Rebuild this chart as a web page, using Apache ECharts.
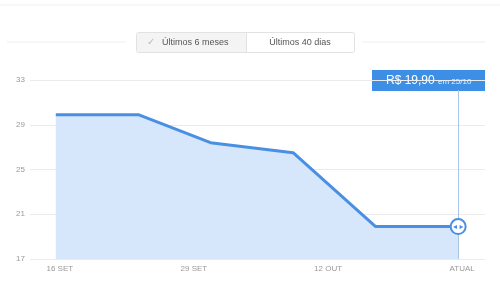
<!DOCTYPE html>
<html><head><meta charset="utf-8">
<script src="https://cdn.jsdelivr.net/npm/echarts@6/dist/echarts.min.js"></script>
<style>html,body{margin:0;padding:0;background:#fff}#c{width:500px;height:284px}</style>
</head><body><div id="c"></div>
<script>
// day offsets from 16 SET
var days = [0, 8, 15, 23, 31, 39];
var prices = [29.9, 29.9, 27.4, 26.5, 19.9, 19.9];
var tickDays = [0, 13, 26, 39];
var tickLabels = ['16 SET', '29 SET', '12 OUT', 'ATUAL'];
var yTicks = [17, 21, 25, 29, 33];
var tipPrice = 'R$ 19,90';
var tipDate = 'em 25/10';
var buttons = ['Últimos 6 meses', 'Últimos 40 dias'];

var chart = echarts.init(document.getElementById('c'), null, {renderer: 'canvas'});
var F = 'Liberation Sans, Arial, sans-serif';
var data = days.map(function (d, i) { return [d, prices[i]]; });
var last = data[data.length - 1];

chart.setOption({
  animation: false,
  grid: {left: 30, right: 15, top: 80, bottom: 25, containLabel: false},
  xAxis: {
    type: 'value', min: -2.5, max: 41.6,
    axisLine: {show: false}, axisTick: {show: false}, splitLine: {show: false},
    axisLabel: {
      customValues: tickDays, color: '#999', fontSize: 8, fontFamily: F, margin: 6,
      padding: [0, 0, 0, 8],
      formatter: function (v) { var i = tickDays.indexOf(v); return i >= 0 ? tickLabels[i] : ''; }
    }
  },
  yAxis: {
    type: 'value', min: yTicks[0], max: yTicks[yTicks.length - 1], interval: 4,
    axisLine: {show: false}, axisTick: {show: false},
    axisLabel: {color: '#999', fontSize: 8, fontFamily: F, margin: 5},
    splitLine: {lineStyle: {color: '#ebebeb', width: 1}}
  },
  series: [{
    type: 'line', data: data, symbol: 'none',
    lineStyle: {color: '#4a90e2', width: 3},
    areaStyle: {color: '#d6e6fb', opacity: 1},
    markLine: {
      silent: true, symbol: 'none', label: {show: false},
      lineStyle: {color: '#a8c6e6', width: 1, type: 'solid'},
      data: [[{coord: [last[0], 32.1]}, {coord: [last[0], 17]}]]
    },
    markPoint: {
      symbol: 'circle', symbolSize: 15,
      itemStyle: {color: '#fff', borderColor: '#4a90e2', borderWidth: 2},
      label: {show: true, formatter: '◂ ▸', color: '#4a90e2', fontSize: 8, fontFamily: 'DejaVu Sans'},
      data: [{coord: last}]
    }
  }],
  graphic: [
    {type: 'line', shape: {x1: 0, y1: 5, x2: 500, y2: 5}, style: {stroke: '#f0f0f0', lineWidth: 1}},
    {type: 'line', shape: {x1: 7, y1: 42, x2: 126, y2: 42}, style: {stroke: '#eeeeee', lineWidth: 1}},
    {type: 'line', shape: {x1: 362, y1: 42, x2: 485, y2: 42}, style: {stroke: '#eeeeee', lineWidth: 1}},
    {type: 'rect', shape: {x: 136.5, y: 32.5, width: 218, height: 20, r: 2}, style: {fill: '#fff', stroke: '#e2e2e2', lineWidth: 1}},
    {type: 'rect', shape: {x: 137, y: 33, width: 109, height: 19}, style: {fill: '#f4f4f4'}},
    {type: 'line', shape: {x1: 246.5, y1: 33, x2: 246.5, y2: 52}, style: {stroke: '#e2e2e2', lineWidth: 1}},
    {type: 'text', x: 147, y: 42.5, style: {text: '✓', fill: '#bbb', font: '10px DejaVu Sans', verticalAlign: 'middle'}},
    {type: 'text', x: 162, y: 43, style: {text: buttons[0], fill: '#555', font: '9px ' + F, verticalAlign: 'middle'}},
    {type: 'text', x: 300, y: 43, style: {text: buttons[1], fill: '#555', font: '9px ' + F, align: 'center', verticalAlign: 'middle'}},
    {type: 'rect', shape: {x: 372, y: 70, width: 113, height: 21}, style: {fill: '#3d8fe6'}},
    {type: 'text', x: 386, y: 80.5, style: {text: tipPrice, fill: '#fff', font: '12px ' + F, verticalAlign: 'middle'}},
    {type: 'text', x: 438, y: 81.5, style: {text: tipDate, fill: '#e8f1fc', font: '8px ' + F, verticalAlign: 'middle'}}
  ]
});
</script></body></html>
